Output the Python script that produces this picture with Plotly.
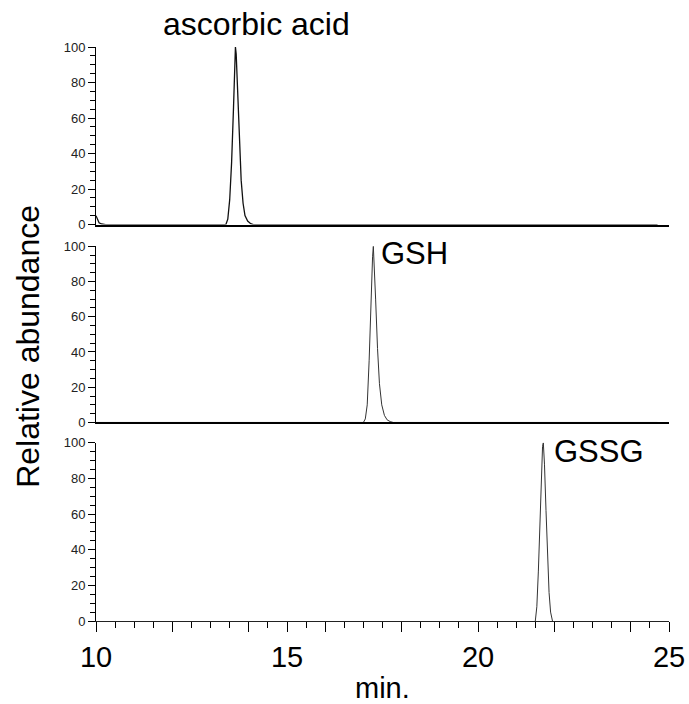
import plotly.graph_objects as go

# ---------------- data ----------------
asc_x = [10.0, 10.03, 10.08, 10.15, 10.25, 13.40, 13.45, 13.50, 13.55, 13.60, 13.63, 13.65,
         13.67, 13.70, 13.75, 13.80, 13.85, 13.90, 13.97, 14.05, 14.12, 24.7]
asc_y = [5, 3, 1, 0.3, 0, 0, 3, 14, 35, 66, 88, 100, 96, 78, 50, 25, 12, 5, 2, 0.5, 0, 0]

gsh_x = [10.0, 17.00, 17.05, 17.10, 17.15, 17.20, 17.24, 17.26, 17.28, 17.32, 17.37, 17.42,
         17.48, 17.55, 17.62, 17.70, 17.78, 24.7]
gsh_y = [0, 0, 2, 10, 35, 72, 94, 100, 92, 70, 42, 22, 10, 4, 1.5, 0.5, 0, 0]

gssg_x = [21.50, 21.54, 21.58, 21.62, 21.66, 21.69, 21.71, 21.74, 21.78, 21.82, 21.86, 21.90, 21.95]
gssg_y = [0, 8, 28, 58, 86, 98, 100, 88, 62, 36, 16, 5, 0]

peak_labels = ["ascorbic acid", "GSH", "GSSG"]
y_ticks = [0, 20, 40, 60, 80, 100]
x_ticks = [10, 12, 14, 15, 16, 18, 20, 22, 24, 25]
x_ticktext = ["10", "", "", "15", "", "", "20", "", "", "25"]

FONT = "Arial, Liberation Sans, sans-serif"

fig = go.Figure()
fig.add_trace(go.Scatter(x=asc_x, y=asc_y, mode="lines", line=dict(color="#111111", width=1.3),
                         xaxis="x", yaxis="y", showlegend=False))
fig.add_trace(go.Scatter(x=gsh_x, y=gsh_y, mode="lines", line=dict(color="#333333", width=1),
                         xaxis="x2", yaxis="y2", showlegend=False))
fig.add_trace(go.Scatter(x=gssg_x, y=gssg_y, mode="lines", line=dict(color="#333333", width=1),
                         xaxis="x3", yaxis="y3", showlegend=False))

yax = dict(range=[0, 100], showline=True, linecolor="black", linewidth=1, ticks="outside",
           ticklen=7, tickcolor="black", tickvals=y_ticks, showgrid=False, zeroline=False,
           automargin=False,
           tickfont=dict(family=FONT, size=13, color="#222222"),
           minor=dict(dtick=5, tick0=0, ticks="outside", ticklen=5, tickcolor="black", showgrid=False))
xax_plain = dict(range=[10, 25], showline=True, linecolor="black", linewidth=1.5, ticks="",
                 showticklabels=False, showgrid=False, zeroline=False, automargin=False)

dom1 = [0.6907, 1.0]
dom2 = [0.3459, 0.6529]
dom3 = [0.0, 0.3105]

fig.update_layout(
    width=689, height=704,
    margin=dict(l=96, r=20, t=47, b=83, autoexpand=False),
    paper_bgcolor="white", plot_bgcolor="white",
    showlegend=False,
    xaxis=dict(**xax_plain, domain=[0, 1], anchor="y"),
    xaxis2=dict(**xax_plain, domain=[0, 1], anchor="y2"),
    xaxis3=dict(range=[10, 25], showline=True, linecolor="#222222", linewidth=1, ticks="outside",
                ticklen=10, tickcolor="black", tickmode="array", tickvals=x_ticks, ticktext=x_ticktext,
                showgrid=False, zeroline=False, domain=[0, 1], anchor="y3", automargin=False,
                tickfont=dict(family=FONT, size=29, color="black"),
                minor=dict(tickmode="linear", dtick=0.5, tick0=10, ticks="outside", ticklen=6,
                           tickcolor="black", showgrid=False)),
    yaxis=dict(**yax, domain=dom1, anchor="x"),
    yaxis2=dict(**yax, domain=dom2, anchor="x2"),
    yaxis3=dict(**yax, domain=dom3, anchor="x3"),
)

fig.add_annotation(text=peak_labels[0], x=14.19, y=1.128, xref="x", yref="y domain",
                   xanchor="center", yanchor="middle", showarrow=False,
                   font=dict(family=FONT, size=32, color="black"))
fig.add_annotation(text=peak_labels[1], x=17.40, y=0.96, xref="x2", yref="y2 domain",
                   xanchor="left", yanchor="middle", showarrow=False,
                   font=dict(family=FONT, size=31, color="black"))
fig.add_annotation(text=peak_labels[2], x=21.95, y=0.95, xref="x3", yref="y3 domain",
                   xanchor="left", yanchor="middle", showarrow=False,
                   font=dict(family=FONT, size=31, color="black"))

fig.add_annotation(text="Relative abundance", x=-0.12, y=0.478, xref="paper", yref="paper",
                   textangle=-90, xanchor="center", yanchor="middle", showarrow=False,
                   font=dict(family=FONT, size=32, color="black"))
fig.add_annotation(text="min.", x=0.5, y=-0.117, xref="paper", yref="paper",
                   xanchor="center", yanchor="middle", showarrow=False,
                   font=dict(family=FONT, size=29, color="black"))

fig.write_html("out.html")
